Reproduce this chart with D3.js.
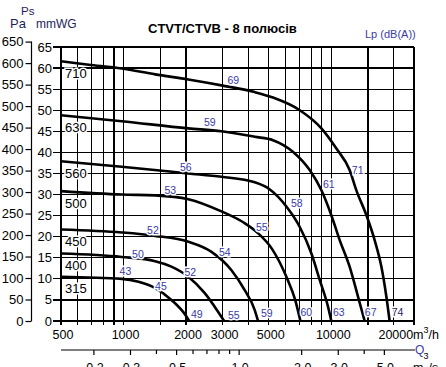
<!DOCTYPE html>
<html>
<head>
<meta charset="utf-8">
<script src="https://cdn.jsdelivr.net/npm/d3@7"></script>
<style>
body { margin:0; background:#fff; }
text { font-family:"Liberation Sans", Arial, sans-serif; }
</style>
</head>
<body>
<svg id="basicSVG" width="446" height="367"></svg>
<script>
// fan curves: [flow m3/h, static pressure mmWG]
var fan315 = [[500,10.5],[980,10.0],[1180,9.3],[1420,7.8],[1700,5.0],[2000,1.2],[2070,0]];
var fan400 = [[500,16.0],[980,15.2],[1420,14.2],[1700,12.9],[2050,10.5],[2460,6.6],[2850,2.2],[3050,0]];
var fan450 = [[500,21.7],[980,21.0],[1420,20.2],[2050,18.8],[2650,16.4],[3300,12.1],[3830,7.3],[4280,2.6],[4440,0]];
var fan500 = [[500,30.8],[980,30.0],[1420,29.8],[2050,28.9],[2960,26.0],[3800,23.3],[4400,21.0],[5200,17.0],[6100,10.3],[6700,5.0],[7100,0]];
var fan560 = [[500,37.9],[980,36.6],[2050,35.0],[2960,34.2],[4280,32.9],[5060,31.2],[6090,27.1],[7050,22.3],[8020,16.0],[8800,9.7],[9640,3.4],[10000,0]];
var fan630 = [[500,48.8],[980,47.4],[2050,45.7],[2960,45.0],[4280,43.7],[5240,42.9],[6550,40.1],[7870,35.8],[8960,31.0],[10000,25.1],[10970,19.2],[12250,12.9],[13440,5.8],[14470,0]];
var fan710 = [[500,61.6],[680,60.8],[980,59.9],[1420,58.5],[2050,57.3],[2960,55.9],[4280,54.3],[5240,53.0],[7050,50.0],[8960,45.7],[10580,40.9],[12250,35.8],[13200,31.0],[14750,25.1],[16160,19.2],[17410,12.9],[18400,5.8],[19080,0]];

var sizes = ["315","400","450","500","560","630","710"];
var curves = [fan315, fan400, fan450, fan500, fan560, fan630, fan710];

// sound levels Lp dB(A): [flow, mmWG, value]
var soundLevels = [
  [1021,11.7,"43"],[1513,8.3,"45"],[2253,1.7,"49"],
  [1173,15.7,"50"],[2097,11.6,"52"],[3394,1.4,"55"],
  [1385,21.6,"52"],[3072,16.4,"54"],[4890,1.8,"59"],
  [1680,31.0,"53"],[4627,22.2,"55"],[7574,2.0,"60"],
  [1995,36.5,"56"],[6816,28.0,"58"],[10855,2.0,"63"],
  [2600,47.2,"59"],[9717,32.5,"61"],[15467,2.0,"67"],
  [3375,57.1,"69"],[13397,35.8,"71"],[20853,2.0,"74"]
];

var flowGrid = [500,600,700,800,900,1000,1500,2000,3000,4000,5000,6000,7000,8000,9000,10000,15000,20000,25000];
var flowLabels = [500,1000,2000,3000,5000,10000,20000];
var m3sMajor = [0.2,0.3,0.5,1.0,2.0,3.0,5.0];
var m3sMinor = [0.4,0.6,0.7,0.8,0.9,4.0];
var mmTicks = d3.range(0,66,5);
var paTicks = d3.range(0,651,50);

var svg = d3.select("#basicSVG");
var blue = "#3a3aa6";
var navy = "#1e1e5c";

var x = d3.scaleLog().domain([500,25000]).range([61,414]);
var xs = d3.scaleLog().domain([500/3600,25000/3600]).range([61,414]);
var y = d3.scaleLinear().domain([0,65]).range([321,47]);
var yPa = d3.scaleLinear().domain([0,65*9.80665]).range([321,47]);

// grid
var grid = svg.append("g").attr("stroke","#000").attr("stroke-width",1.2).attr("shape-rendering","crispEdges");
grid.selectAll(".v").data(flowGrid).enter().append("line")
  .attr("x1",function(d){return x(d);}).attr("x2",function(d){return x(d);})
  .attr("y1",y(65)).attr("y2",y(0)+4);
grid.selectAll(".h").data(mmTicks).enter().append("line")
  .attr("x1",53).attr("x2",x(25000))
  .attr("y1",function(d){return y(d);}).attr("y2",function(d){return y(d);});

// mmWG labels
svg.append("g").selectAll("text").data(mmTicks).enter().append("text")
  .attr("x",52).attr("y",function(d){return y(d);}).attr("dy","0.35em")
  .attr("text-anchor","end").attr("font-size",13).text(function(d){return d;});

// Pa axis
var paAxis = svg.append("g").attr("transform","translate(31.5,0)")
  .call(d3.axisLeft(yPa).tickValues(paTicks).tickSize(6).tickPadding(2));
paAxis.select(".domain").remove();
paAxis.append("line").attr("x1",0).attr("x2",0).attr("y1",yPa(650)).attr("y2",yPa(0))
  .attr("stroke","#000").attr("stroke-width",1.2);
paAxis.selectAll("line").attr("stroke-width",1.2);
paAxis.selectAll("text").attr("font-size",13).attr("fill","#000")
  .attr("font-family","Liberation Sans, Arial, sans-serif");

// flow labels m3/h
svg.append("g").selectAll("text").data(flowLabels).enter().append("text")
  .attr("x",function(d){return x(d)+2;}).attr("y",339)
  .attr("text-anchor","middle").attr("font-size",12.5).text(function(d){return d;});
var mh = svg.append("text").attr("x",413).attr("y",339).attr("font-size",12.5);
mh.append("tspan").text("m");
mh.append("tspan").attr("dy",-6).attr("font-size",9).text("3");
mh.append("tspan").attr("dy",6).text("/h");

// m3/s axis
svg.append("line").attr("x1",61).attr("x2",415).attr("y1",350).attr("y2",350)
  .attr("stroke","#000").attr("stroke-width",1.2);
svg.append("g").selectAll("line").data(m3sMajor.concat(m3sMinor)).enter().append("line")
  .attr("x1",function(d){return xs(d);}).attr("x2",function(d){return xs(d);})
  .attr("y1",350).attr("y2",function(d){return m3sMajor.indexOf(d)>=0 ? 355 : 354;})
  .attr("stroke","#000").attr("stroke-width",1.2);
svg.append("g").selectAll("text").data(m3sMajor).enter().append("text")
  .attr("x",function(d){return xs(d)+1;}).attr("y",372)
  .attr("text-anchor","middle").attr("font-size",12.5).text(function(d){return d.toFixed(1);});
var ms = svg.append("text").attr("x",413).attr("y",372).attr("font-size",12.5);
ms.append("tspan").text("m");
ms.append("tspan").attr("dy",-13).attr("font-size",9).text("3");
ms.append("tspan").attr("dy",13).text("/s");
svg.append("text").attr("x",415).attr("y",354).attr("font-size",12).attr("fill",blue).text("Q");

// curves
var line = d3.line().x(function(d){return x(d[0]);}).y(function(d){return y(d[1]);}).curve(d3.curveMonotoneX);
svg.append("g").selectAll("path").data(curves).enter().append("path")
  .attr("d",line).attr("fill","none").attr("stroke","#000").attr("stroke-width",2.6);

// size labels
svg.append("g").selectAll("text").data(curves).enter().append("text")
  .attr("x",x(500)+4).attr("y",function(d){return y(d[0][1])+12;}).attr("dy","0.35em")
  .attr("font-size",13).attr("stroke","#fff").attr("stroke-width",3).attr("paint-order","stroke")
  .text(function(d,i){return sizes[i];});

// Lp labels
svg.append("g").selectAll("text").data(soundLevels).enter().append("text")
  .attr("x",function(d){return x(d[0]);}).attr("y",function(d){return y(d[1]);}).attr("dy","0.35em")
  .attr("text-anchor","middle").attr("font-size",10.5)
  .attr("fill",function(d){return d[2]=="74" ? navy : blue;})
  .attr("stroke","#fff").attr("stroke-width",3).attr("paint-order","stroke")
  .text(function(d){return d[2];});

// titles
svg.append("text").attr("x",148).attr("y",33).attr("font-size",13).attr("font-weight","bold")
  .text("CTVT/CTVB - 8 полюсів");
svg.append("text").attr("x",365).attr("y",38).attr("font-size",11).attr("fill",blue).text("Lp (dB(A))");
svg.append("text").attr("x",21).attr("y",15).attr("font-size",11.5).attr("fill",navy).text("Ps");
svg.append("text").attr("x",10).attr("y",28).attr("font-size",13).attr("fill",navy).text("Pa");
svg.append("text").attr("x",36).attr("y",28).attr("font-size",12).attr("fill",navy).text("mmWG");
</script>
</body>
</html>
